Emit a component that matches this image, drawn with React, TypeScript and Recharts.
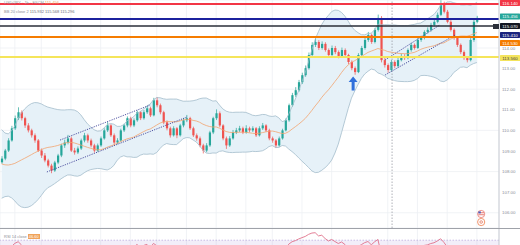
import React from 'react';
import {
  ComposedChart,
  Bar,
  Line,
  Area,
  XAxis,
  YAxis,
  CartesianGrid,
  ReferenceLine,
  ReferenceDot,
  ReferenceArea,
} from 'recharts';

// USD/JPY 1h, one value per candle
const closes = [
  108.63, 109.02, 109.51, 110.1, 110.59, 110.88, 110.59, 110.24, 110.0, 109.76,
  109.51, 109.02, 108.78, 108.54, 108.29, 108.05, 108.44, 108.78, 109.27, 109.41,
  109.61, 109.02, 108.93, 109.12, 109.51, 109.76, 109.51, 109.27, 109.02, 109.27,
  109.61, 110.0, 110.24, 109.76, 109.41, 109.51, 110.0, 110.24, 110.59, 110.24,
  110.49, 110.88, 110.59, 110.88, 111.07, 110.73, 111.46, 111.22, 110.88, 110.39,
  110.1, 109.76, 110.1, 109.76, 110.24, 110.49, 110.59, 110.1, 109.76, 109.61,
  109.27, 109.02, 109.27, 109.9, 110.59, 110.83, 110.24, 109.61, 109.27, 109.61,
  109.9, 110.0, 110.1, 109.9, 110.1, 110.0, 110.1, 109.76, 110.1, 110.24,
  110.0, 109.61, 109.51, 109.27, 109.61, 110.0, 110.49, 111.22, 111.71, 111.95,
  112.34, 112.68, 113.02, 113.66, 114.15, 114.29, 114.0, 114.2, 113.9, 113.66,
  114.0, 113.8, 113.61, 113.9, 113.66, 113.32, 113.02, 112.83, 113.66, 114.0,
  114.39, 114.63, 114.29, 114.88, 115.46, 113.41, 113.17, 112.93, 113.32, 113.12,
  113.41, 113.61, 113.51, 113.9, 114.15, 114.0, 114.39, 114.49, 114.78, 114.88,
  115.12, 115.27, 115.61, 116.1, 115.76, 115.27, 114.88, 114.49, 114.15, 113.8,
  113.51, 113.41, 114.39, 115.27, 115.46,
];
const highs = [
  108.75, 109.1, 109.62, 110.22, 110.72, 111.12, 110.97, 110.66, 110.35, 110.08,
  109.85, 109.58, 109.12, 108.9, 108.62, 108.38, 108.52, 108.86, 109.35, 109.55,
  109.78, 109.7, 109.15, 109.22, 109.6, 109.88, 109.84, 109.6, 109.35, 109.36,
  109.7, 110.1, 110.4, 110.3, 109.85, 109.62, 110.08, 110.32, 110.68, 110.66,
  110.58, 110.96, 110.95, 110.98, 111.18, 111.15, 111.58, 111.62, 111.3, 110.95,
  110.48, 110.18, 110.2, 110.16, 110.32, 110.6, 110.75, 110.66, 110.18, 109.85,
  109.7, 109.35, 109.38, 109.98, 110.66, 111.02, 110.92, 110.3, 109.7, 109.72,
  110.02, 110.12, 110.22, 110.18, 110.25, 110.18, 110.2, 110.16, 110.2, 110.36,
  110.3, 110.08, 109.7, 109.58, 109.7, 110.08, 110.58, 111.3, 111.82, 112.1,
  112.45, 112.8, 113.15, 113.78, 114.28, 114.48, 114.38, 114.32, 114.28, 113.98,
  114.12, 114.1, 113.88, 114.02, 113.98, 113.72, 113.4, 113.1, 113.75, 114.1,
  114.5, 114.78, 114.7, 114.98, 115.62, 115.55, 113.52, 113.25, 113.42, 113.4,
  113.52, 113.72, 113.7, 113.98, 114.25, 114.22, 114.48, 114.6, 114.86, 115.0,
  115.22, 115.36, 115.72, 116.32, 116.25, 115.85, 115.35, 114.95, 114.58, 114.22,
  113.88, 113.6, 114.48, 115.36, 115.56,
];
const lows = [
  108.38, 108.55, 108.95, 109.45, 110.02, 110.5, 110.48, 110.12, 109.9, 109.65,
  109.4, 108.95, 108.66, 108.45, 108.2, 107.92, 107.98, 108.36, 108.7, 109.15,
  109.32, 108.95, 108.82, 108.85, 109.05, 109.42, 109.4, 109.18, 108.92, 108.96,
  109.2, 109.55, 109.92, 109.68, 109.3, 109.33, 109.45, 109.92, 110.15, 110.15,
  110.16, 110.42, 110.5, 110.52, 110.8, 110.65, 110.68, 111.12, 110.78, 110.3,
  110.0, 109.65, 109.7, 109.62, 109.7, 110.15, 110.4, 110.02, 109.68, 109.5,
  109.18, 108.88, 108.94, 109.2, 109.82, 110.5, 110.15, 109.52, 109.1, 109.2,
  109.55, 109.82, 109.92, 109.82, 109.84, 109.9, 109.92, 109.68, 109.7, 110.02,
  109.92, 109.52, 109.4, 109.14, 109.2, 109.55, 109.95, 110.42, 111.15, 111.62,
  111.88, 112.25, 112.6, 112.95, 113.58, 114.05, 113.9, 113.92, 113.82, 113.55,
  113.6, 113.7, 113.5, 113.55, 113.58, 113.22, 112.92, 112.7, 112.78, 113.58,
  113.92, 114.3, 114.2, 114.22, 114.8, 113.3, 113.05, 112.8, 112.85, 113.02,
  113.05, 113.35, 113.42, 113.45, 113.82, 113.92, 113.95, 114.3, 114.42, 114.7,
  114.8, 115.05, 115.2, 115.55, 115.68, 115.2, 114.8, 114.4, 114.05, 113.7,
  113.42, 113.3, 113.35, 114.3, 115.2,
];
// fx candles open where the previous one closed
const opens = [108.45, ...closes.slice(0, -1)];
// history left of the visible window, only feeds the BB / RSI windows
const priorCloses = [
  109.9, 109.7, 109.5, 109.6, 109.2, 108.9, 108.6, 108.3, 108.0, 107.7,
  107.5, 107.3, 107.2, 107.4, 107.6, 107.8, 108.0, 108.2, 108.4,
];

// horizontal levels: red, navy, black, orange, yellow
const levelPrices = [116.14, 115.41, 115.07, 114.53, 113.56];
const levelLabels = ['116.140', '115.410', '115.070', '114.530', '113.560'];
const lastPriceLabel = '115.456';
const priceTicks = [106, 107, 108, 109, 110, 111, 112, 113, 114];
const timeGrid = [4, 12, 21, 30, 39, 47, 56, 65, 74, 82, 91, 100, 109, 117, 126, 135, 144];
const rsiTicks = [80];
const legendValues = ['115.932', '115.568', '115.296'];
const rsiValue = '46.60';

// drawn trend channels, [candle index, price] pairs
const channelLines = [
  [[17.7, 109.53], [45.0, 111.23]],
  [[13.7, 107.98], [56.2, 110.65]],
  [[116.2, 113.42], [132.8, 115.12]],
  [[116.2, 112.69], [137.4, 114.63]],
];
const dashedTime = 118.3;
const arrowPoint = [106.5, 112.62];
const eventPoints = [[145.3, 105.94], [145.3, 105.55]];

const levelStyle = [
  { color: '#f23645', width: 2, tag: '#f23645', text: '#fff', dy: -1 },
  { color: '#1c229e', width: 2, tag: '#1a237e', text: '#fff', dy: 16 },
  { color: '#2a2e39', width: 1.5, tag: '#131722', text: '#fff', dy: 0 },
  { color: '#f57c00', width: 2, tag: '#f57c00', text: '#fff', dy: 6 },
  { color: '#f5e55a', width: 2, tag: '#f4e45c', text: '#444', dy: 1 },
];

const UP = '#26a69a';
const DOWN = '#ef5350';
const FONT = '"Liberation Sans", Arial, sans-serif';

const full = [...priorCloses, ...closes];
const off = priorCloses.length;

// bollinger 20, 2
function bb(k: number) {
  const win = full.slice(k - 19, k + 1);
  const mean = win.reduce((s, v) => s + v, 0) / win.length;
  const sd = Math.sqrt(win.reduce((s, v) => s + (v - mean) ** 2, 0) / win.length);
  return { basis: mean, upper: mean + 2 * sd, lower: mean - 2 * sd };
}

// rsi 14 (wilder)
const rsiFull: (number | null)[] = [null];
let ag = 0;
let al = 0;
for (let k = 1; k < full.length; k++) {
  const d = full[k] - full[k - 1];
  const g = Math.max(d, 0);
  const lo = Math.max(-d, 0);
  if (k <= 14) {
    ag += g / 14;
    al += lo / 14;
  } else {
    ag = (ag * 13 + g) / 14;
    al = (al * 13 + lo) / 14;
  }
  rsiFull.push(k >= 14 ? 100 - 100 / (1 + ag / (al || 1e-9)) : null);
}

const data = closes.map((c, i) => {
  const b = bb(i + off);
  return {
    i,
    o: opens[i],
    h: highs[i],
    l: lows[i],
    c,
    range: [lows[i], highs[i]],
    band: [b.lower, b.upper],
    upper: b.upper,
    lower: b.lower,
    basis: b.basis,
    rsi: rsiFull[i + off],
  };
});

const X_DOMAIN = [-0.5, 150.7];

function Candle(props: any) {
  const { x, y, width, height, payload } = props;
  const { o, c, h, l } = payload;
  const color = c >= o ? UP : DOWN;
  const top = Math.min(y, y + height);
  const hgt = Math.abs(height);
  const ppu = hgt / (h - l || 1);
  const bodyTop = top + (h - Math.max(o, c)) * ppu;
  const bodyH = Math.max(0.8, Math.abs(o - c) * ppu);
  const cx = x + width / 2;
  return (
    <g>
      <line x1={cx} x2={cx} y1={top} y2={top + hgt} stroke={color} strokeWidth={0.7} />
      <rect x={cx - 1.1} y={bodyTop} width={2.2} height={bodyH} fill={color} />
    </g>
  );
}

function PriceTag(props: any) {
  const { viewBox, text, bg, color, dy } = props;
  if (!viewBox) return null;
  const x = viewBox.x + viewBox.width + 1;
  const y = viewBox.y + dy;
  return (
    <g>
      <rect x={x} y={y - 3} width={20} height={6} fill={bg} rx={0.6} />
      <text x={x + 10} y={y + 1.6} fontSize={4.4} fill={color} textAnchor="middle" fontFamily={FONT}>
        {text}
      </text>
    </g>
  );
}

function Arrow(props: any) {
  const { cx, cy } = props;
  return (
    <path
      d={`M${cx},${cy} L${cx + 4.5},${cy + 5.5} L${cx + 1.5},${cy + 5.5} L${cx + 1.5},${cy + 14} L${cx - 1.5},${cy + 14} L${cx - 1.5},${cy + 5.5} L${cx - 4.5},${cy + 5.5} Z`}
      fill="#2f6fdb"
    />
  );
}

function EventIcon(props: any) {
  const { cx, cy, index } = props;
  if (index === 0) {
    return (
      <g>
        <circle cx={cx} cy={cy} r={3.6} fill="#fff" stroke="#e8766e" strokeWidth={0.8} />
        <rect x={cx - 2.8} y={cy - 1.6} width={5.6} height={0.8} fill="#e05a50" />
        <rect x={cx - 2.8} y={cy + 0.4} width={5.6} height={0.8} fill="#e05a50" />
        <rect x={cx - 2.8} y={cy - 2.6} width={2.4} height={2} fill="#4a5bbf" />
      </g>
    );
  }
  return (
    <g>
      <circle cx={cx} cy={cy} r={3.6} fill="#fff" stroke="#f08a5d" strokeWidth={0.9} />
      <circle cx={cx} cy={cy} r={1.3} fill="none" stroke="#e0664a" strokeWidth={0.7} />
    </g>
  );
}

export default function App() {
  const closeLast = closes[closes.length - 1];
  return (
    <div
      style={{
        position: 'relative',
        width: 520,
        height: 245,
        background: '#fff',
        overflow: 'hidden',
        fontFamily: FONT,
      }}
    >
      <style>{'body{margin:0}'}</style>

      {/* main price pane */}
      <ComposedChart width={520} height={228} data={data} margin={{ top: 0, right: 0, bottom: 0, left: 0 }}>
        <CartesianGrid stroke="#eef0f4" strokeWidth={0.8} />
        <XAxis dataKey="i" type="number" domain={X_DOMAIN} ticks={timeGrid} hide allowDataOverflow />
        <YAxis
          orientation="right"
          width={21}
          domain={[105.26, 116.33]}
          ticks={priceTicks}
          allowDataOverflow
          tickLine={false}
          tickSize={0}
          tickMargin={3}
          axisLine={{ stroke: '#c9ccd3' }}
          tick={{ fontSize: 4.4, fill: '#8a8d96', fontFamily: FONT }}
          tickFormatter={(v: number) => v.toFixed(2)}
        />
        <Area
          dataKey="band"
          stroke="none"
          fill="#e6f1f8"
          fillOpacity={1}
          activeDot={false}
          isAnimationActive={false}
        />
        <Line dataKey="upper" stroke="#a3bccb" strokeWidth={0.8} dot={false} activeDot={false} isAnimationActive={false} />
        <Line dataKey="lower" stroke="#a3bccb" strokeWidth={0.8} dot={false} activeDot={false} isAnimationActive={false} />
        <Line dataKey="basis" stroke="#f2a36f" strokeWidth={0.8} dot={false} activeDot={false} isAnimationActive={false} />
        <ReferenceLine x={dashedTime} stroke="#9a9da6" strokeWidth={0.8} strokeDasharray="1.5 1.5" />
        {channelLines.map((seg, k) => (
          <ReferenceLine
            key={`ch-${k}`}
            segment={[
              { x: seg[0][0], y: seg[0][1] },
              { x: seg[1][0], y: seg[1][1] },
            ]}
            stroke="#3c3f96"
            strokeWidth={0.9}
            strokeDasharray="1.2 1.2"
          />
        ))}
        <Bar dataKey="range" barSize={2} shape={<Candle />} activeBar={false} isAnimationActive={false} />
        {levelPrices.map((p, k) => (
          <ReferenceLine
            key={`lvl-${k}`}
            y={p}
            stroke={levelStyle[k].color}
            strokeWidth={levelStyle[k].width}
            label={
              <PriceTag
                text={levelLabels[k]}
                bg={levelStyle[k].tag}
                color={levelStyle[k].text}
                dy={levelStyle[k].dy}
              />
            }
          />
        ))}
        <ReferenceLine
          y={closeLast}
          stroke="none"
          label={<PriceTag text={lastPriceLabel} bg="#26a69a" color="#fff" dy={-1.5} />}
        />
        <ReferenceDot x={arrowPoint[0]} y={arrowPoint[1]} r={0} shape={<Arrow />} />
        {eventPoints.map((pt, k) => (
          <ReferenceDot
            key={`ev-${k}`}
            x={pt[0]}
            y={pt[1]}
            r={0}
            ifOverflow="visible"
            shape={<EventIcon index={k} />}
          />
        ))}
      </ComposedChart>

      {/* legend, top left */}
      <div style={{ position: 'absolute', left: 4, top: -0.5, fontSize: 4, color: '#9598a1', whiteSpace: 'nowrap' }}>
        USD/JPY · 1h · FXCM <span style={{ color: '#f0a060' }}>115.456</span>
      </div>
      <div style={{ position: 'absolute', left: 4, top: 8.5, fontSize: 4, color: '#8a8d96', whiteSpace: 'nowrap' }}>
        BB 20 close 2 <span style={{ color: '#6b6e78' }}>{legendValues.join('  ')}</span>
      </div>
      <div style={{ position: 'absolute', left: 493, top: 24, width: 6, height: 5, background: '#2a2e39' }} />

      {/* rsi pane */}
      <div style={{ position: 'absolute', left: 0, top: 228, width: 520, height: 17, borderTop: '1px solid #9fa2a9' }}>
        <ComposedChart width={520} height={16} data={data} margin={{ top: 0, right: 0, bottom: 0, left: 0 }}>
          <CartesianGrid stroke="#eef0f4" strokeWidth={0.8} horizontal={false} />
          <XAxis dataKey="i" type="number" domain={X_DOMAIN} ticks={timeGrid} hide allowDataOverflow />
          <YAxis
            orientation="right"
            width={21}
            domain={[62.7, 87]}
            ticks={rsiTicks}
            allowDataOverflow
            tickLine={false}
            tickSize={0}
            tickMargin={3}
            axisLine={{ stroke: '#c9ccd3' }}
            tick={{ fontSize: 4.4, fill: '#8a8d96', fontFamily: FONT }}
            tickFormatter={(v: number) => v.toFixed(2)}
          />
          <ReferenceArea y1={30} y2={70} fill="#7e57c2" fillOpacity={0.1} stroke="none" ifOverflow="hidden" />
          <ReferenceLine y={70} stroke="#b4a2da" strokeDasharray="1.5 1.5" strokeWidth={0.7} />
          <Line
            dataKey="rsi"
            stroke="#e0708a"
            strokeWidth={0.9}
            dot={false}
            activeDot={false}
            isAnimationActive={false}
          />
        </ComposedChart>
        <div style={{ position: 'absolute', left: 4, top: 5, fontSize: 4, color: '#8a8d96', whiteSpace: 'nowrap' }}>
          RSI 14 close{' '}
          <span style={{ color: '#fff', background: '#f0a35a', padding: '0 1px' }}>{rsiValue}</span>
        </div>
      </div>
    </div>
  );
}
